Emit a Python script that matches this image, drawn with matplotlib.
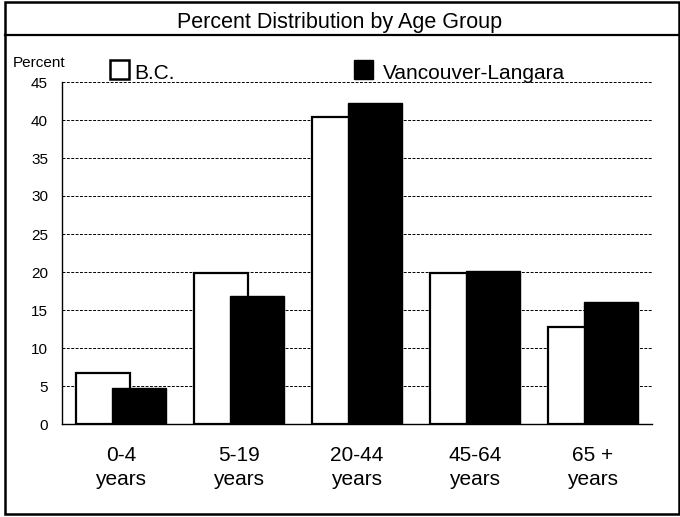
import matplotlib.pyplot as plt
import numpy as np
from matplotlib.patches import Rectangle
from matplotlib.lines import Line2D

plt.rcParams['font.family'] = ['Liberation Sans', 'DejaVu Sans']

# Age groups and percent shares
groups = ['0-4\nyears', '5-19\nyears', '20-44\nyears', '45-64\nyears', '65 +\nyears']
bc = [6.7, 19.9, 40.4, 19.9, 12.8]
vancouver = [4.7, 16.8, 42.2, 20.1, 16.1]
yticks = [0, 5, 10, 15, 20, 25, 30, 35, 40, 45]

W, H = 680, 517
fig = plt.figure(figsize=(6.8, 5.17), dpi=100)
ax = fig.add_axes([62 / W, 1 - 424 / H, 590 / W, 342 / H])

x = np.arange(len(groups))
w = 0.46
ax.bar(x - 0.155, bc, w, color='white', edgecolor='black', linewidth=1.6, zorder=3)
ax.bar(x + 0.155, vancouver, w, color='black', edgecolor='black', linewidth=1.0, zorder=4)

ax.set_xlim(-0.5, len(groups) - 0.5)
ax.set_ylim(0, 45)
ax.set_yticks(yticks)
ax.set_yticklabels([str(v) for v in yticks], fontsize=11)
ax.set_xticks(x)
ax.set_xticklabels(groups, fontsize=15, linespacing=1.3)
ax.tick_params(axis='x', length=0, pad=16)
ax.tick_params(axis='y', length=0, pad=10)
ax.yaxis.grid(True, linestyle=(0, (3, 1.5)), color='black', linewidth=0.7, zorder=0)
for s in ['top', 'right']:
    ax.spines[s].set_visible(False)
ax.spines['left'].set_linewidth(1.0)
ax.spines['bottom'].set_linewidth(1.0)

# y axis caption
fig.text(13 / W, 1 - 67 / H, 'Percent', fontsize=11, ha='left', va='baseline')

# legend drawn as figure patches
fig.patches.append(Rectangle((110 / W, 1 - 79 / H), 19 / W, 19 / H,
                             transform=fig.transFigure, facecolor='white',
                             edgecolor='black', linewidth=1.8))
fig.text(134 / W, 1 - 79 / H, 'B.C.', fontsize=15, ha='left', va='baseline')
fig.patches.append(Rectangle((354 / W, 1 - 79 / H), 19 / W, 19 / H,
                             transform=fig.transFigure, facecolor='black',
                             edgecolor='black', linewidth=1.0))
fig.text(383 / W, 1 - 79 / H, 'Vancouver-Langara', fontsize=15, ha='left', va='baseline')

# title box and outer frame
fig.text(0.5, 1 - 28 / H, 'Percent Distribution by Age Group', fontsize=15.5,
         ha='center', va='baseline')
fig.lines.append(Line2D([5 / W, 1], [1 - 35 / H, 1 - 35 / H],
                        transform=fig.transFigure, color='black', linewidth=1.6))
fig.patches.append(Rectangle((5 / W, 1 - 514 / H), 674 / W, 512 / H,
                             transform=fig.transFigure, facecolor='none',
                             edgecolor='black', linewidth=1.8))

fig.savefig('out.png', dpi=100)
